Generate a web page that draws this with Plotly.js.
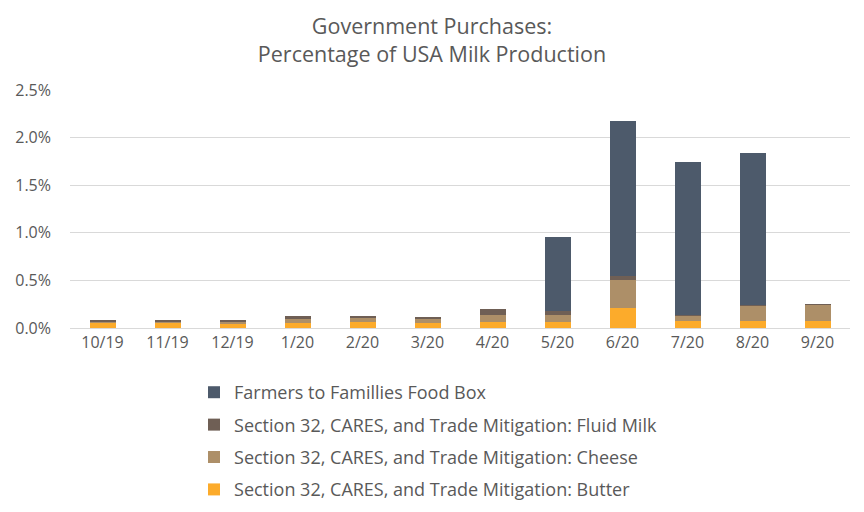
<!DOCTYPE html>
<html>
<head>
<meta charset="utf-8">
<script src="https://cdn.plot.ly/plotly-3.0.1.min.js"></script>
<style>html,body{margin:0;padding:0;background:#fff;}#chart{width:864px;height:512px;}</style>
</head>
<body>
<div id="chart"></div>
<script>
const months = ['10/19','11/19','12/19','1/20','2/20','3/20','4/20','5/20','6/20','7/20','8/20','9/20'];
const butter = [0.056,0.056,0.045,0.056,0.066,0.056,0.066,0.066,0.214,0.077,0.077,0.077];
const cheese = [0.010,0.010,0.021,0.042,0.042,0.042,0.074,0.074,0.295,0.053,0.158,0.160];
const fluidMilk = [0.021,0.021,0.021,0.032,0.021,0.021,0.063,0.042,0.042,0.010,0.003,0.010];
const foodBox = [0,0,0,0,0,0,0,0.770,1.620,1.600,1.600,0];
const seriesNames = [
  'Section 32, CARES, and Trade Mitigation: Butter',
  'Section 32, CARES, and Trade Mitigation: Cheese',
  'Section 32, CARES, and Trade Mitigation: Fluid Milk',
  'Farmers to Famillies Food Box'
];
const colors = ['#fcab2b','#ad8f68','#6f5f55','#4d5a6b'];
const yTicks = [0,0.5,1.0,1.5,2.0,2.5];
const yTickLabels = ['0.0%','0.5%','1.0%','1.5%','2.0%','2.5%'];

const data = [butter, cheese, fluidMilk, foodBox].map((vals, i) => ({
  type: 'bar',
  x: months,
  y: vals,
  name: seriesNames[i],
  legendgroup: 'g' + i,
  legendrank: 1000 + (4 - i),
  marker: {color: colors[i]},
  hoverinfo: 'name+y'
}));

const font = "'Segoe UI', 'Open Sans', 'Noto Sans', sans-serif";
const layout = {
  width: 864, height: 512,
  paper_bgcolor: '#fff', plot_bgcolor: '#fff',
  font: {family: font, color: '#595959', size: 16},
  title: {text: 'Government Purchases:<br>Percentage of USA Milk Production',
          font: {family: font, size: 21.5, color: '#595959'},
          x: 0.5, xanchor: 'center', xref: 'container', yref: 'container', y: 0.934, yanchor: 'middle'},
  barmode: 'stack',
  bargap: 0.6,
  margin: {l: 70, r: 14, t: 90, b: 184},
  xaxis: {type: 'category', showgrid: false, showline: true, linecolor: '#d9d9d9', linewidth: 1,
          ticks: '', tickfont: {size: 16, color: '#595959'}, fixedrange: true},
  yaxis: {range: [0, 2.5], tickvals: yTicks, ticktext: yTickLabels, ticklabelstandoff: 18,
          showgrid: true, gridcolor: '#d9d9d9', gridwidth: 1, zeroline: false,
          showline: false, ticks: '', tickfont: {size: 16, color: '#595959'}, fixedrange: true},
  legend: {orientation: 'v', traceorder: 'grouped', tracegroupgap: 6,
           xref: 'paper', yref: 'container',
           x: 0.159, xanchor: 'left', y: 0.2695, yanchor: 'top',
           font: {size: 18, color: '#595959'}, bgcolor: 'rgba(0,0,0,0)'},
  showlegend: true
};
Plotly.newPlot('chart', data, layout, {displayModeBar: false, staticPlot: true});
</script>
</body>
</html>
